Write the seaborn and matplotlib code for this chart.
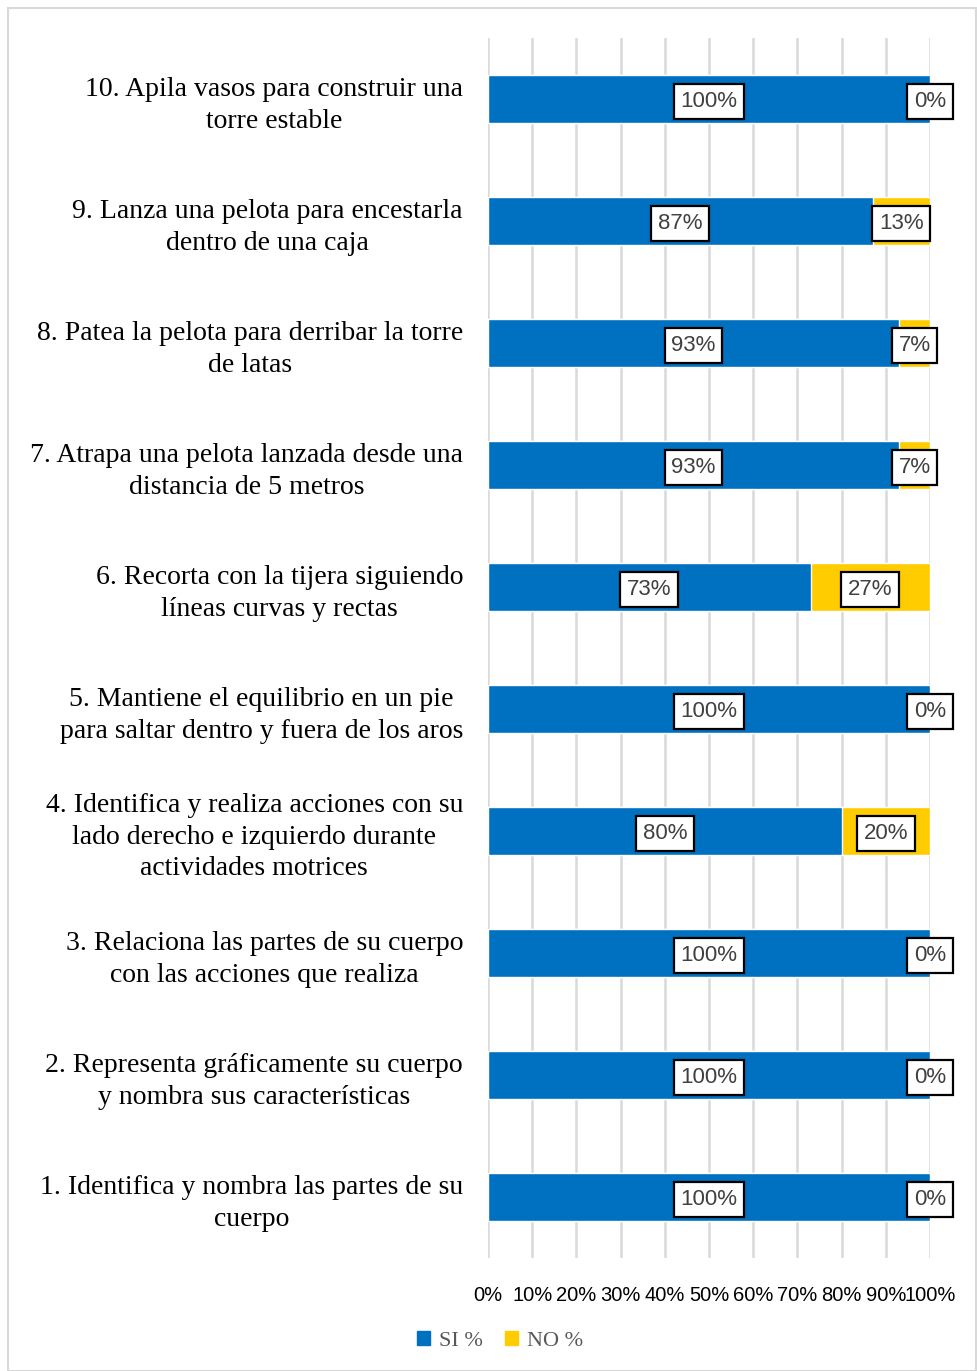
import pandas as pd
import seaborn as sns
import matplotlib.pyplot as plt
from matplotlib.patches import Rectangle, Patch

# data (top to bottom as in the chart)
items = [
    "10. Apila vasos para construir una\ntorre estable",
    "9. Lanza una pelota para encestarla\ndentro de una caja",
    "8. Patea la pelota para derribar la torre\nde latas",
    "7. Atrapa una pelota lanzada desde una\ndistancia de 5 metros",
    "6. Recorta con la tijera siguiendo\nlíneas curvas y rectas",
    "5. Mantiene el equilibrio en un pie\npara saltar dentro y fuera de los aros",
    "4. Identifica y realiza acciones con su\nlado derecho e izquierdo durante\nactividades motrices",
    "3. Relaciona las partes de su cuerpo\ncon las acciones que realiza",
    "2. Representa gráficamente su cuerpo\ny nombra sus características",
    "1. Identifica y nombra las partes de su\ncuerpo",
]
si_pct = [100, 87, 93, 93, 73, 100, 80, 100, 100, 100]
no_pct = [0, 13, 7, 7, 27, 0, 20, 0, 0, 0]
x_ticks = [0, 10, 20, 30, 40, 50, 60, 70, 80, 90, 100]

BLUE = "#0070C0"
YELLOW = "#FFCC00"

df = pd.DataFrame({"item": items, "si": si_pct, "no": no_pct})
df["total"] = df["si"] + df["no"]

sns.set_theme(style="white")
plt.rcParams["font.family"] = ["Liberation Sans", "DejaVu Sans"]

fig = plt.figure(figsize=(9.77, 13.71), dpi=100)
W, H = 977, 1371
ax = fig.add_axes([488 / W, 1 - 1258 / H, (930 - 488) / W, (1258 - 38) / H])

# stacked: draw total (yellow) then SI (blue) over it
sns.barplot(data=df, y="item", x="total", color=YELLOW, width=0.4,
            saturation=1, ax=ax, zorder=2)
sns.barplot(data=df, y="item", x="si", color=BLUE, width=0.4,
            saturation=1, ax=ax, zorder=3)

ax.set_xlim(0, 100)
ax.set_xticks(x_ticks)
ax.set_xticklabels([f"{t}%" for t in x_ticks], fontsize=14.5, color="black")
ax.set_xlabel("")
ax.set_ylabel("")
ax.tick_params(axis="x", length=0, pad=20)
ax.tick_params(axis="y", length=0, pad=18)
for lab in ax.get_yticklabels():
    lab.set_fontfamily(["Liberation Serif", "DejaVu Serif"])
    lab.set_fontsize(20)
    lab.set_multialignment("center")
    lab.set_linespacing(1.35)
    lab.set_color("black")

ax.grid(axis="x", color="#D9D9D9", linewidth=1.8, zorder=0)
ax.set_axisbelow(True)
for s in ax.spines.values():
    s.set_visible(False)

box = dict(boxstyle="square,pad=0.3", facecolor="white", edgecolor="black", linewidth=1.6)
for i, row in df.iterrows():
    ax.text(row["si"] / 2, i + 0.02, f"{row['si']}%", ha="center", va="center",
            fontsize=16, color="#404040", bbox=box, zorder=5)
    ax.text(row["si"] + row["no"] / 2, i + 0.02, f"{row['no']}%", ha="center", va="center",
            fontsize=16, color="#404040", bbox=box, zorder=5)

handles = [Patch(color=BLUE, label="SI %"), Patch(color=YELLOW, label="NO %")]
leg = fig.legend(handles=handles, loc="center", bbox_to_anchor=(500 / W, 1 - 1341 / H),
                 ncol=2, frameon=False, handlelength=0.6, handleheight=0.6,
                 handletextpad=0.4, columnspacing=1.0,
                 prop={"family": ["Liberation Serif"], "size": 16})
for t in leg.get_texts():
    t.set_color("#595959")

fig.patches.append(Rectangle((8 / W, 0.0), (W - 9) / W, 1 - 8 / H, transform=fig.transFigure,
                             fill=False, edgecolor="#D9D9D9", linewidth=1.5))

fig.savefig("out.png", dpi=100)
